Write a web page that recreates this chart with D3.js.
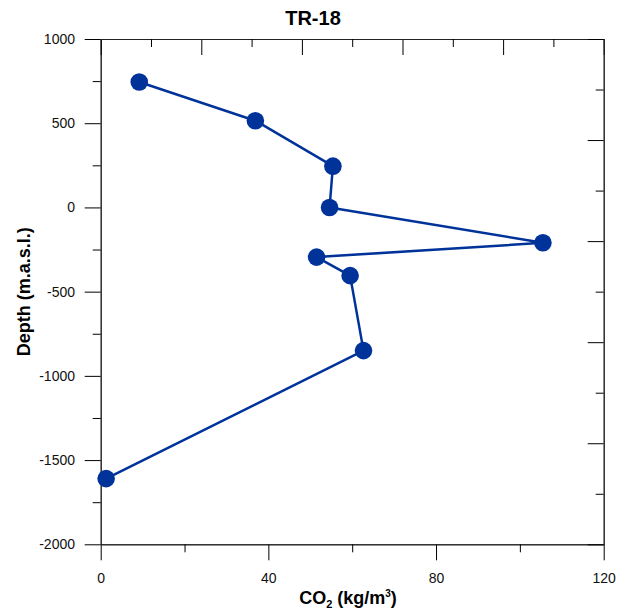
<!DOCTYPE html>
<html>
<head>
<meta charset="utf-8">
<script src="https://cdn.jsdelivr.net/npm/d3@7/dist/d3.min.js"></script>
<style>
  html, body { margin: 0; padding: 0; background: #fff; }
  svg { display: block; font-family: Arial, "Liberation Sans", sans-serif; }
</style>
</head>
<body>
<svg id="chart" width="623" height="608"></svg>
<script>
// CO2 content per sampled depth in well TR-18
const co2 = [9.2, 36.9, 55.4, 54.6, 105.5, 51.5, 59.5, 62.7, 1.3];
const depth = [745, 515, 245, 0, -210, -295, -405, -850, -1610];

// axis ticks
const xMajor = [0, 40, 80, 120];
const xMinor = [20, 60, 100];
const yMajor = [1000, 500, 0, -500, -1000, -1500, -2000];
const yMinor = [750, 250, -250, -750, -1250, -1750];
const topMajor = [0, 24, 48, 72, 96, 120];
const topMinor = [12, 36, 60, 84, 108];
const rightMajor = [1000, 400, -200, -800, -1400, -2000];
const rightMinor = [700, 100, -500, -1100, -1700];

const svg = d3.select("#chart");
const W = 623;
const plotLeft = 100.7, plotRight = 603.7, plotTop = 39, plotBottom = 544.3;

const x = d3.scaleLinear().domain([0, 120]).range([plotLeft, plotRight]);
const y = d3.scaleLinear().domain([-2000, 1000]).range([plotBottom, plotTop]);

const points = co2.map((v, i) => ({ x: v, y: depth[i] }));

const axisColor = "#222";
const fontSize = 14;
const plainNumber = d => String(d);   // keep ASCII hyphen for negatives

function drawAxis(axis, transform, withLabels) {
  const g = svg.append("g").attr("transform", transform).call(axis);
  g.selectAll("path.domain").attr("stroke", axisColor).attr("stroke-width", 1);
  g.selectAll(".tick line").attr("stroke", "#000").attr("stroke-width", 1);
  g.selectAll(".tick text")
    .attr("fill", "#111")
    .style("font-size", fontSize + "px")
    .style("display", withLabels ? null : "none");
  return g;
}

// left axis: major ticks with labels, minor ticks shorter
drawAxis(d3.axisLeft(y).tickValues(yMajor).tickSize(16).tickSizeOuter(0).tickPadding(9.7)
  .tickFormat(plainNumber), `translate(${plotLeft},0)`, true);
drawAxis(d3.axisLeft(y).tickValues(yMinor).tickSize(8).tickSizeOuter(0), `translate(${plotLeft},0)`, false);

// bottom axis
drawAxis(d3.axisBottom(x).tickValues(xMajor).tickSize(16).tickSizeOuter(0).tickPadding(12.8)
  .tickFormat(plainNumber), `translate(0,${plotBottom})`, true);
drawAxis(d3.axisBottom(x).tickValues(xMinor).tickSize(8).tickSizeOuter(0), `translate(0,${plotBottom})`, false);

// top axis: inward ticks, no labels
drawAxis(d3.axisTop(x).tickValues(topMajor).tickSize(-16).tickSizeOuter(0), `translate(0,${plotTop})`, false);
drawAxis(d3.axisTop(x).tickValues(topMinor).tickSize(-8).tickSizeOuter(0), `translate(0,${plotTop})`, false);

// right axis: inward ticks, no labels
drawAxis(d3.axisRight(y).tickValues(rightMajor).tickSize(-16).tickSizeOuter(0), `translate(${plotRight},0)`, false);
drawAxis(d3.axisRight(y).tickValues(rightMinor).tickSize(-8).tickSizeOuter(0), `translate(${plotRight},0)`, false);

// profile line and sample markers
const blue = "#00339a";
const line = d3.line().x(d => x(d.x)).y(d => y(d.y));
svg.append("path")
  .datum(points)
  .attr("d", line)
  .attr("fill", "none")
  .attr("stroke", blue)
  .attr("stroke-width", 2.5)
  .attr("stroke-linejoin", "round");

svg.append("g")
  .selectAll("circle")
  .data(points)
  .join("circle")
  .attr("cx", d => x(d.x))
  .attr("cy", d => y(d.y))
  .attr("r", 8.8)
  .attr("fill", blue);

// title
svg.append("text")
  .attr("x", W / 2 + 1.5)
  .attr("y", 25)
  .attr("text-anchor", "middle")
  .style("font-size", "20px")
  .style("font-weight", "bold")
  .attr("fill", "#000")
  .text("TR-18");

// x-axis title with subscript / superscript
const xt = svg.append("text")
  .attr("x", 348)
  .attr("y", 603.5)
  .attr("text-anchor", "middle")
  .style("font-size", "18px")
  .style("font-weight", "bold")
  .attr("fill", "#000");
xt.append("tspan").text("CO");
xt.append("tspan").attr("dy", 4).style("font-size", "11px").text("2");
xt.append("tspan").attr("dy", -4).text(" (kg/m");
xt.append("tspan").attr("dy", -7).style("font-size", "10px").text("3");
xt.append("tspan").attr("dy", 7).text(")");

// y-axis title
svg.append("text")
  .attr("transform", `translate(30,${(plotTop + plotBottom) / 2}) rotate(-90)`)
  .attr("text-anchor", "middle")
  .style("font-size", "18px")
  .style("font-weight", "bold")
  .attr("fill", "#000")
  .text("Depth (m.a.s.l.)");
</script>
</body>
</html>
